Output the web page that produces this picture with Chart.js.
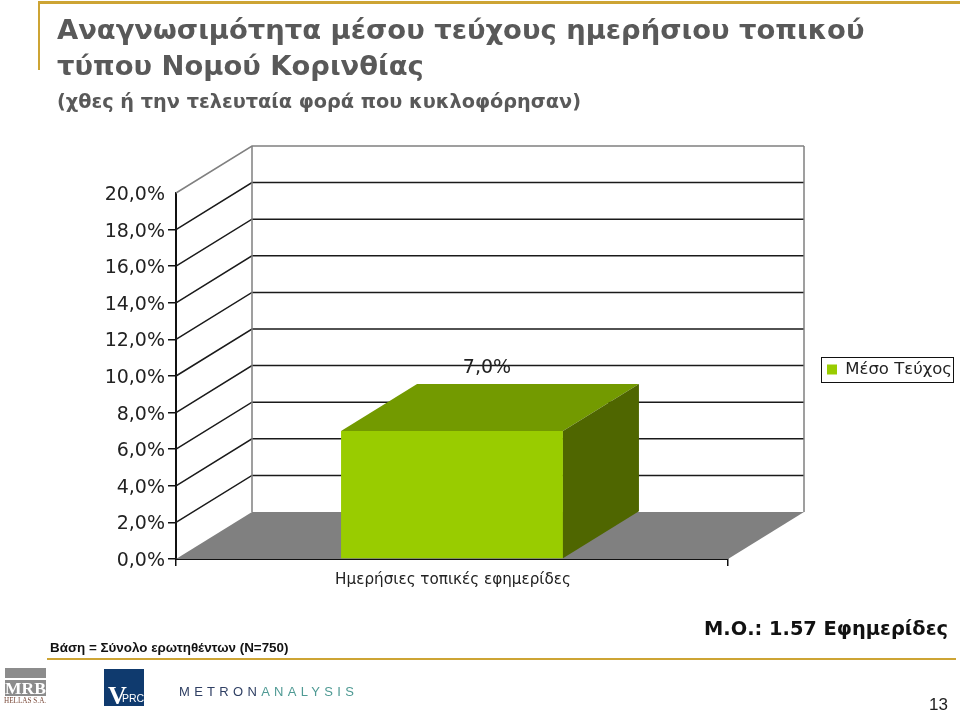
<!DOCTYPE html>
<html>
<head>
<meta charset="utf-8">
<script src="https://cdn.jsdelivr.net/npm/chart.js@4/dist/chart.umd.min.js"></script>
<style>
body { margin: 0; background: #fff; }
#page { position: relative; width: 960px; height: 710px; overflow: hidden; }
#page div { position: absolute; white-space: nowrap; }
canvas { position: absolute; left: 0; top: 0; }
.head { font-family: "DejaVu Sans"; font-weight: bold; color: #595959; }
.gold { background: #cda434; }
</style>
</head>
<body>
<div id="page">
    <canvas id="myChart" width="960" height="710"></canvas>

    <div class="gold" style="left:38px;top:1px;width:922px;height:3px"></div>
    <div class="gold" style="left:38px;top:1px;width:2px;height:69px"></div>
    <div class="gold" style="left:47px;top:658px;width:909px;height:2px"></div>

    <div class="head" style="left:57px;top:14px;font-size:27.4px">Αναγνωσιμότητα μέσου τεύχους ημερήσιου τοπικού</div>
    <div class="head" style="left:57px;top:50px;font-size:27.4px">τύπου Νομού Κορινθίας</div>
    <div class="head" style="left:57px;top:90px;font-size:19.3px">(χθες ή την τελευταία φορά που κυκλοφόρησαν)</div>

    <div style="left:50px;top:640px;font:bold 13.4px 'Liberation Sans';color:#111">Βάση = Σύνολο ερωτηθέντων (N=750)</div>
    <div style="left:704px;top:617px;font:bold 19.4px 'DejaVu Sans';color:#111">Μ.Ο.: 1.57 Εφημερίδες</div>
    <div style="left:929px;top:695px;font:17px 'Liberation Sans';color:#222">13</div>

    <!-- logos -->
    <div style="left:5px;top:668px;width:41px;height:10px;background:#8c8c8c"></div>
    <div style="left:5px;top:680px;width:41px;height:16px;background:#8c8c8c"></div>
    <div style="left:5px;top:678px;font:bold 17.5px 'Liberation Serif';color:#fff">MRB</div>
    <div style="left:4px;top:697px;font:7.2px 'Liberation Serif';color:#7a4a3a">HELLAS S.A.</div>
    <div style="left:104px;top:669px;width:40px;height:37px;background:#0f3a6e"></div>
    <div style="left:108px;top:681px;font:bold 26px 'Liberation Serif';color:#fff">V</div>
    <div style="left:122px;top:692px;font:10.5px 'Liberation Sans';color:#fff">PRC</div>
    <div style="left:179px;top:684px;font:13px 'Liberation Sans';letter-spacing:4.3px;color:#2f3f63">METRON<span style="color:#4f9a94">ANALYSIS</span></div>
</div>

<script>
const categories = ['Ημερήσιες τοπικές εφημερίδες'];
const seriesName = 'Μέσο Τεύχος';
const seriesValues = [7.0];
const yMax = 20;
const yStep = 2;

// how far the back wall sits from the front plane
const depthX = 76;
const depthY = -47;

function percentLabel(value) {
    return value.toFixed(1).replace('.', ',') + '%';
}

const box3d = {
    id: 'box3d',
    afterLayout(chart) {
        // legend sits in the free space on the right, not in the layout
        const legend = chart.legend;
        legend.left = 821;
        legend.top = 357;
        legend.right = 953;
        legend.bottom = 382;
        legend.width = 132;
        legend.height = 25;
    },
    beforeDatasetsDraw(chart) {
        const ctx = chart.ctx;
        const area = chart.chartArea;
        const y = chart.scales.y;
        const y0 = y.getPixelForValue(0);

        ctx.save();
        // floor
        ctx.fillStyle = '#808080';
        ctx.beginPath();
        ctx.moveTo(area.left, y0);
        ctx.lineTo(area.left + depthX, y0 + depthY);
        ctx.lineTo(area.right + depthX, y0 + depthY);
        ctx.lineTo(area.right, y0);
        ctx.closePath();
        ctx.fill();

        // grid on left wall and back wall
        ctx.lineWidth = 1.5;
        y.ticks.forEach(t => {
            if (t.value === 0) return;
            const py = y.getPixelForValue(t.value);
            ctx.strokeStyle = t.value === yMax ? '#808080' : '#1a1a1a';
            ctx.beginPath();
            ctx.moveTo(area.left, py);
            ctx.lineTo(area.left + depthX, py + depthY);
            ctx.lineTo(area.right + depthX, py + depthY);
            ctx.stroke();
        });

        // wall edges
        const top = y.getPixelForValue(yMax) + depthY;
        ctx.strokeStyle = '#808080';
        ctx.beginPath();
        ctx.moveTo(area.left + depthX, top);
        ctx.lineTo(area.left + depthX, y0 + depthY);
        ctx.moveTo(area.right + depthX, top);
        ctx.lineTo(area.right + depthX, y0 + depthY);
        ctx.stroke();
        ctx.restore();
    },
    afterDatasetsDraw(chart) {
        const ctx = chart.ctx;
        ctx.save();
        chart.getDatasetMeta(0).data.forEach((bar, i) => {
            const left = bar.x - bar.width / 2;
            const right = bar.x + bar.width / 2;

            ctx.fillStyle = '#739a00';
            ctx.beginPath();
            ctx.moveTo(left, bar.y);
            ctx.lineTo(left + depthX, bar.y + depthY);
            ctx.lineTo(right + depthX, bar.y + depthY);
            ctx.lineTo(right, bar.y);
            ctx.closePath();
            ctx.fill();

            ctx.fillStyle = '#4f6600';
            ctx.beginPath();
            ctx.moveTo(right, bar.y);
            ctx.lineTo(right + depthX, bar.y + depthY);
            ctx.lineTo(right + depthX, bar.base + depthY);
            ctx.lineTo(right, bar.base);
            ctx.closePath();
            ctx.fill();

            ctx.fillStyle = '#222';
            ctx.font = '19px "DejaVu Sans"';
            ctx.textAlign = 'center';
            ctx.textBaseline = 'middle';
            ctx.fillText(percentLabel(seriesValues[i]), bar.x + depthX / 2 - 3, bar.y + depthY - 16);
        });
        ctx.restore();
    },
    afterDraw(chart) {
        const legend = chart.legend;
        const ctx = chart.ctx;
        ctx.save();
        ctx.strokeStyle = '#111';
        ctx.lineWidth = 1;
        ctx.strokeRect(legend.left + 0.5, legend.top + 0.5, legend.width, legend.height);
        ctx.restore();
    }
};

var ctx = document.getElementById('myChart').getContext('2d');
var config = {
    type: 'bar',
    data: {
        labels: categories,
        datasets: [{
            label: seriesName,
            data: seriesValues,
            backgroundColor: '#99cc00',
            barPercentage: 0.402,
            categoryPercentage: 1,
        }]
    },
    options: {
        responsive: false,
        animation: false,
        layout: {
            padding: { left: 0, top: 193, right: 232, bottom: 111 }
        },
        plugins: {
            title: { display: false },
            tooltip: { enabled: false },
            legend: {
                position: 'chartArea',
                labels: {
                    color: '#222',
                    boxWidth: 10,
                    boxHeight: 10,
                    padding: 6,
                    font: { family: 'DejaVu Sans', size: 16.5 },
                }
            }
        },
        scales: {
            x: {
                afterFit(scale) { scale.height = 40; },
                border: { color: '#111', width: 2 },
                grid: { drawOnChartArea: false, color: '#111', tickLength: 7, lineWidth: 1.5 },
                ticks: {
                    color: '#222',
                    padding: 5,
                    labelOffset: 1,
                    font: { family: 'DejaVu Sans', size: 15.2 },
                }
            },
            y: {
                min: 0,
                max: yMax,
                afterFit(scale) { scale.width = 176; },
                border: { color: '#111', width: 2 },
                grid: {
                    drawOnChartArea: false,
                    tickLength: 8,
                    lineWidth: 1.5,
                    color: c => c.tick.value === yMax ? 'rgba(0,0,0,0)' : '#111',
                },
                ticks: {
                    stepSize: yStep,
                    color: '#222',
                    padding: 3,
                    labelOffset: 2,
                    font: { family: 'DejaVu Sans', size: 19 },
                    callback: value => percentLabel(value),
                }
            }
        }
    },
    plugins: [box3d]
};

var myChart = new Chart(ctx, config);
</script>
</body>
</html>
